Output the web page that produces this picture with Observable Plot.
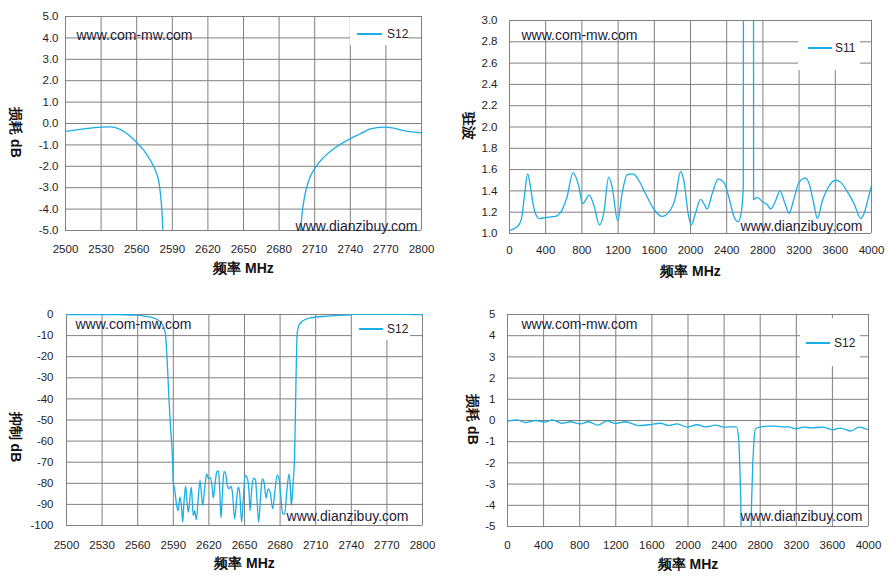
<!DOCTYPE html>
<html><head><meta charset="utf-8">
<script src="https://cdn.jsdelivr.net/npm/d3@7"></script>
<script src="https://cdn.jsdelivr.net/npm/@observablehq/plot@0.6"></script>
<style>
body{margin:0;background:#fff;}
#root{position:relative;width:889px;height:586px;overflow:hidden;background:#fff;font-family:"Liberation Sans",Arial,sans-serif;}
.panel{position:absolute;}
.legend{position:absolute;background:#fff;}
.legend .sw{position:absolute;height:2px;background:#1aaee6;}
.legend .lb{position:absolute;font-size:12px;color:#222;line-height:14px;}
</style></head><body><div id="root"></div>
<script>
// ---------- data ----------
const lineColor = "#1aaee6";
const gridColor = "#808080";

// Panel 1: S12 insertion loss, 2500-2800 MHz
const p1Freq = [2500, 2515.4, 2530.3, 2538, 2545, 2552, 2560.4, 2566, 2571.6, 2575.8,
  2578.7, 2580, 2581.2, 2582, 2582.5, 2584, 2640, 2696, 2697.5, 2698.3,
  2699.4, 2701.4, 2705, 2710.7, 2717.7, 2726.1, 2739.6, 2748.6, 2757, 2768.3,
  2775.3, 2785.1, 2793.5, 2800];
const p1Loss = [-0.37, -0.25, -0.17, -0.16, -0.25, -0.48, -0.92, -1.26, -1.73, -2.2,
  -2.74, -3.29, -4.07, -5.0, -6.5, -10, null, -10, -6.5, -5.0,
  -4.22, -3.44, -2.66, -2.04, -1.57, -1.18, -0.72, -0.48, -0.25, -0.17,
  -0.2, -0.33, -0.4, -0.44];

// Panel 2: S11 VSWR, 0-4000 MHz
const p2Freq = [0, 60, 110, 135, 165, 200, 230, 260, 290, 332,
  395, 505, 580, 635, 701, 764, 808, 882, 937, 993,
  1041, 1096, 1133, 1196, 1244, 1299, 1365, 1428, 1502, 1594,
  1686, 1760, 1834, 1889, 1926, 1974, 2007, 2055, 2111, 2148,
  2184, 2240, 2306, 2369, 2424, 2480, 2528, 2565, 2583, 2590,
  2695, 2697, 2738, 2793, 2849, 2886, 2941, 2989, 3033, 3089,
  3144, 3199, 3266, 3310, 3365, 3402, 3458, 3513, 3605, 3660,
  3734, 3808, 3882, 3919, 3967, 4000];
const p2Vswr = [1.03, 1.05, 1.09, 1.15, 1.35, 1.56, 1.45, 1.28, 1.18, 1.14,
  1.15, 1.16, 1.22, 1.34, 1.57, 1.45, 1.28, 1.36, 1.25, 1.08,
  1.19, 1.53, 1.44, 1.12, 1.375, 1.55, 1.56, 1.5, 1.375, 1.23,
  1.16, 1.2, 1.34, 1.58, 1.5, 1.19, 1.08, 1.19, 1.32, 1.28,
  1.23, 1.375, 1.51, 1.48, 1.34, 1.16, 1.11, 1.22, 1.44, 10,
  10, 1.32, 1.34, 1.30, 1.27, 1.23, 1.31, 1.40, 1.31, 1.19,
  1.33, 1.48, 1.52, 1.47, 1.27, 1.14, 1.31, 1.42, 1.5, 1.48,
  1.39, 1.28, 1.14, 1.19, 1.34, 1.45];

// Panel 3: S12 rejection, 2500-2800 MHz
const p3Freq = [2500, 2528, 2545, 2559, 2568, 2575, 2580.5, 2583.3, 2584.7, 2586,
  2587.5, 2589.2, 2590, 2591.1, 2592.8, 2594, 2595.6, 2596.8, 2597.9, 2599,
  2600.4, 2601.6, 2602.7, 2604, 2605.2, 2606.2, 2606.9, 2608, 2609.4, 2611,
  2612.5, 2613.6, 2614.7, 2616.4, 2618.1, 2619.5, 2621.5, 2622.9, 2623.7, 2625.2,
  2626.6, 2628, 2629.1, 2630.2, 2631.3, 2632.7, 2634.1, 2635.5, 2637, 2638.4,
  2639.8, 2641.7, 2643.4, 2644.8, 2645.9, 2647.6, 2649, 2650.5, 2652.4, 2653.8,
  2654.7, 2656.1, 2657.5, 2659.2, 2660.3, 2662, 2663.4, 2665, 2666.5, 2668.2,
  2669.9, 2671.6, 2673.8, 2675.5, 2677.7, 2679.1, 2680.5, 2682.2, 2683.9, 2685.6,
  2687.6, 2688.7, 2689.5, 2691, 2692.2, 2692.8, 2693.5, 2694.4, 2695.8, 2698.6,
  2705.7, 2719.8, 2739.5, 2770, 2800];
const p3Rej = [0, 0, -0.1, -0.3, -1, -2, -4.4, -9, -20, -36,
  -52, -67, -79.5, -82.6, -90.5, -93, -86.6, -90.5, -98.4, -89,
  -81.4, -89, -93.7, -87, -81.8, -90.5, -95.3, -93, -97.2, -87,
  -78.7, -84.2, -90.5, -82.6, -75.5, -77.6, -77.6, -82.6, -87, -80,
  -74.7, -74, -82.6, -96.5, -86, -74.4, -75.5, -81, -82.6, -81.4,
  -84.2, -96.9, -87.4, -81.8, -84.2, -98.4, -87.4, -76.3, -77.6, -84.2,
  -93, -82.6, -77.6, -78.2, -85.8, -98.4, -87.4, -77.9, -79.5, -87,
  -82.6, -84.2, -92.1, -84.2, -76, -77.9, -85.8, -94.5, -94.5, -84.2,
  -75.5, -82.6, -90.5, -79.5, -66.8, -50, -28, -9, -5.2, -3.2,
  -1.6, -0.8, -0.2, 0, 0];

// Panel 4: S12 insertion loss, 0-4000 MHz
const p4Freq = [0, 104, 196, 314, 418, 500, 603, 696, 807, 899,
  1003, 1103, 1195, 1306, 1454, 1565, 1695, 1787, 1880, 1991,
  2102, 2194, 2305, 2398, 2537, 2563, 2574, 2589, 2595, 2695,
  2700, 2711, 2729, 2748, 2785, 2879, 2971, 3064, 3119, 3193,
  3286, 3378, 3489, 3600, 3693, 3804, 3896, 4000];
const p4Loss = [-0.03, 0.03, -0.1, 0, -0.08, 0.03, -0.13, -0.06, -0.16, -0.06,
  -0.22, -0.02, -0.14, -0.06, -0.24, -0.2, -0.13, -0.24, -0.16, -0.31,
  -0.2, -0.3, -0.22, -0.31, -0.3, -0.94, -2.2, -5, -30, -30,
  -5, -2.97, -1.1, -0.38, -0.33, -0.27, -0.27, -0.31, -0.3, -0.39,
  -0.31, -0.35, -0.31, -0.44, -0.36, -0.5, -0.31, -0.44];

// tick values
const bandTicks = [2500, 2530, 2560, 2590, 2620, 2650, 2680, 2710, 2740, 2770, 2800];
const wideTicks = [0, 400, 800, 1200, 1600, 2000, 2400, 2800, 3200, 3600, 4000];
const lossTicks1 = [-5, -4, -3, -2, -1, 0, 1, 2, 3, 4, 5];
const vswrTicks = [1.0, 1.2, 1.4, 1.6, 1.8, 2.0, 2.2, 2.4, 2.6, 2.8, 3.0];
const rejTicks = [-100, -90, -80, -70, -60, -50, -40, -30, -20, -10, 0];
const lossTicks4 = [-5, -4, -3, -2, -1, 0, 1, 2, 3, 4, 5];

// texts
const xTitle = "频率 MHz";
const yTitles = ["损耗 dB", "驻波", "抑制 dB", "损耗 dB"];
const seriesNames = ["S12", "S11", "S12", "S12"];
const watermarkTop = "www.com-mw.com";
const watermarkBottom = "www.dianzibuy.com";

const zip = (fs, vs) => fs.map((f, i) => ({f, v: vs[i]}));

// ---------- layout ----------
const panels = [
  {left: 0, top: 0, width: 444, height: 290, mL: 65, mR: 23, mT: 16, mB: 60,
   xDomain: [2500, 2800], xTicks: bandTicks, yDomain: [-5, 5], yTicks: lossTicks1,
   yFmt: d => d.toFixed(1), data: zip(p1Freq, p1Loss), xPad: 14, yPad: 7,
   yTitleDx: -50, yTitleDy: 9, wm1: [11, 19], wm2: [-4, -4],
   legend: {x: 350, y: 17, w: 58, h: 28, lx: 7, lw: 25, ly: 16, tx: 37}},
  {left: 445, top: 0, width: 444, height: 290, mL: 64, mR: 18, mT: 20, mB: 57,
   xDomain: [0, 4000], xTicks: wideTicks, yDomain: [1, 3], yTicks: vswrTicks,
   yFmt: d => d.toFixed(1), data: zip(p2Freq, p2Vswr), xPad: 12, yPad: 12,
   yTitleDx: -41, yTitleDy: -1, wm1: [12, 15], wm2: [-9, -7],
   legend: {x: 798 - 445, y: 21, w: 62, h: 49, lx: 10, lw: 24, ly: 26, tx: 37}},
  {left: 0, top: 290, width: 444, height: 296, mL: 66, mR: 22, mT: 24, mB: 61,
   xDomain: [2500, 2800], xTicks: bandTicks, yDomain: [-100, 0], yTicks: rejTicks,
   yFmt: d => String(d), data: zip(p3Freq, p3Rej), xPad: 15, yPad: 13,
   yTitleDx: -51, yTitleDy: 17, wm1: [9, 10], wm2: [-14, -9],
   legend: {x: 352, y: 25, w: 58, h: 25, lx: 7, lw: 24, ly: 13, tx: 35}},
  {left: 445, top: 290, width: 444, height: 296, mL: 62, mR: 21, mT: 24, mB: 60,
   xDomain: [0, 4000], xTicks: wideTicks, yDomain: [-5, 5], yTicks: lossTicks4,
   yFmt: d => String(d), data: zip(p4Freq, p4Loss), xPad: 14, yPad: 12,
   yTitleDx: -35, yTitleDy: -1, wm1: [14, 10], wm2: [-6, -10],
   legend: {x: 800 - 445, y: 28, w: 60, h: 48, lx: 6, lw: 24, ly: 24, tx: 34}}
];

const root = document.getElementById("root");
panels.forEach((p, i) => {
  const wrap = document.createElement("div");
  wrap.className = "panel";
  wrap.style.left = p.left + "px";
  wrap.style.top = p.top + "px";
  wrap.style.width = p.width + "px";
  wrap.style.height = p.height + "px";
  const chart = Plot.plot({
    width: p.width, height: p.height,
    marginLeft: p.mL, marginRight: p.mR, marginTop: p.mT, marginBottom: p.mB,
    style: {fontFamily: "'Liberation Sans', Arial, sans-serif", fontSize: "11.5px", color: "#1e1e1e", background: "transparent", overflow: "visible"},
    x: {domain: p.xDomain, ticks: p.xTicks, tickSize: 0, tickPadding: p.xPad, tickFormat: d => String(d), label: null},
    y: {domain: p.yDomain, ticks: p.yTicks, tickSize: 0, tickPadding: p.yPad, tickFormat: p.yFmt, label: null},
    marks: [
      Plot.gridX(p.xTicks, {stroke: gridColor, strokeOpacity: 1, strokeWidth: 1}),
      Plot.gridY(p.yTicks, {stroke: gridColor, strokeOpacity: 1, strokeWidth: 1}),
      Plot.line(p.data, {x: "f", y: "v", stroke: lineColor, strokeWidth: 1.3, curve: "monotone-x", clip: true}),
      Plot.text([watermarkTop], {text: d => d, frameAnchor: "top-left", lineAnchor: "middle", textAnchor: "start", dx: p.wm1[0], dy: p.wm1[1], fontSize: 14, fill: "#1c1c3a"}),
      Plot.text([watermarkBottom], {text: d => d, frameAnchor: "bottom-right", lineAnchor: "middle", textAnchor: "end", dx: p.wm2[0], dy: p.wm2[1], fontSize: 14, fill: "#1c1c3a"}),
      Plot.text([xTitle], {text: d => d, frameAnchor: "bottom", lineAnchor: "middle", dy: 38, fontSize: 14, fontWeight: "bold", fill: "#111"}),
      Plot.text([yTitles[i]], {text: d => d, frameAnchor: "left", lineAnchor: "middle", textAnchor: "middle", dx: p.yTitleDx, dy: p.yTitleDy, rotate: 90, fontSize: 14, fontWeight: "bold", fill: "#111"})
    ]
  });
  wrap.appendChild(chart);
  const lg = document.createElement("div");
  lg.className = "legend";
  const L = p.legend;
  lg.style.left = L.x + "px"; lg.style.top = L.y + "px";
  lg.style.width = L.w + "px"; lg.style.height = L.h + "px";
  const sw = document.createElement("div");
  sw.className = "sw";
  sw.style.left = L.lx + "px"; sw.style.width = L.lw + "px"; sw.style.top = L.ly + "px";
  const lb = document.createElement("div");
  lb.className = "lb";
  lb.style.left = L.tx + "px"; lb.style.top = (L.ly - 6) + "px";
  lb.textContent = seriesNames[i];
  lg.appendChild(sw); lg.appendChild(lb);
  wrap.appendChild(lg);
  root.appendChild(wrap);
});
</script></body></html>
